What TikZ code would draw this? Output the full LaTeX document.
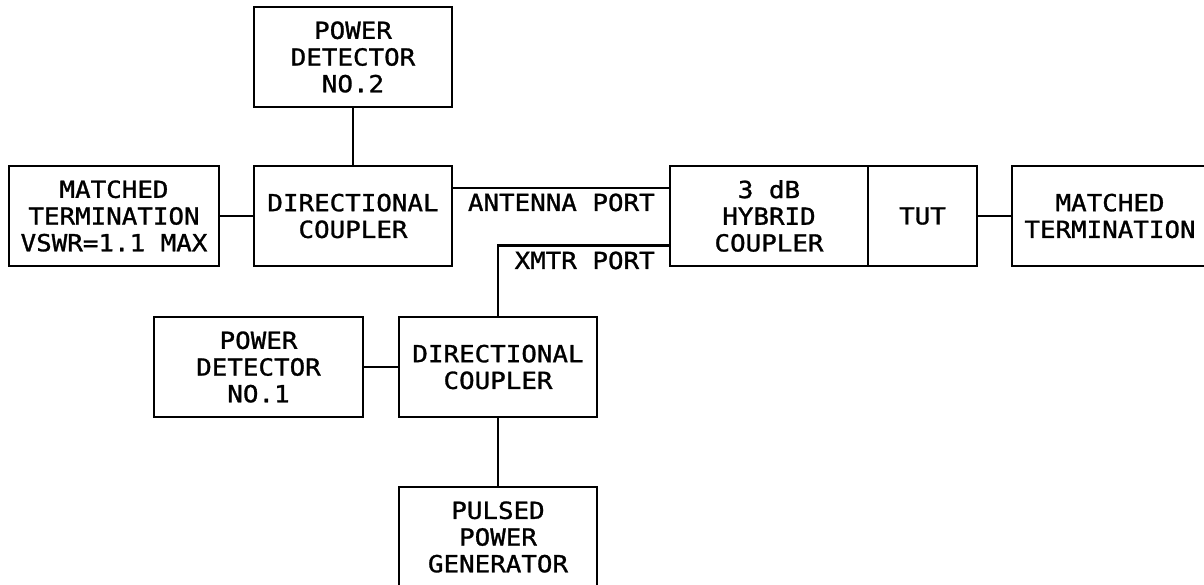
\documentclass[tikz,border=0pt]{standalone}
\usepackage{fontspec}
\newfontfamily\diagfont[FakeStretch=1.1,FakeBold=1.2]{DejaVu Sans Mono}
\begin{document}
\begin{tikzpicture}[x=1pt,y=-1pt, line width=2.6pt,
  blk/.style={draw, line width=2.6pt, inner sep=0pt, align=center,
    minimum height=100pt, font=\diagfont\fontsize{23.5}{26.7}\selectfont},
  lbl/.style={inner sep=0pt, font=\diagfont\fontsize{23.5}{26.7}\selectfont}]
\useasboundingbox (0,0) rectangle (1204,585);
\clip (0,0) rectangle (1204,585);
\node[blk, minimum width=198pt] (pd2) at (353,57) {POWER\\DETECTOR\\NO.2};
\node[blk, minimum width=210pt] (mt1) at (114,216) {MATCHED\\TERMINATION\\VSWR=1.1 MAX};
\node[blk, minimum width=198pt] (dc1) at (353,216) {DIRECTIONAL\\COUPLER};
\node[blk, minimum width=198pt] (hyb) at (769,216) {3 dB\\HYBRID\\COUPLER};
\node[blk, minimum width=109pt] (tut) at (922.5,216) {TUT};
\node[blk, minimum width=196pt] (mt2) at (1110,216) {MATCHED\\TERMINATION};
\node[blk, minimum width=209pt] (pd1) at (258.5,367) {POWER\\DETECTOR\\NO.1};
\node[blk, minimum width=198pt] (dc2) at (498,367) {DIRECTIONAL\\COUPLER};
\node[blk, minimum width=198pt] (ppg) at (498,537) {PULSED\\POWER\\GENERATOR};
\coordinate (ay) at (0,188);
\coordinate (xy) at (0,245.5);
\draw (pd2.south) -- (dc1.north);
\draw (mt1.east) -- (dc1.west);
\draw (dc1.east |- ay) -- (hyb.west |- ay);
\draw (hyb.west |- xy) -- (dc2.north |- xy) -- (dc2.north);
\draw (pd1.east) -- (dc2.west);
\draw (dc2.south) -- (ppg.north);
\draw (tut.east) -- (mt2.west);
\node[lbl, anchor=base east] (antlbl) at (656,211) {ANTENNA PORT};
\node[lbl, anchor=base east] (xmtrlbl) at (656,269) {XMTR PORT};
\end{tikzpicture}
\end{document}
